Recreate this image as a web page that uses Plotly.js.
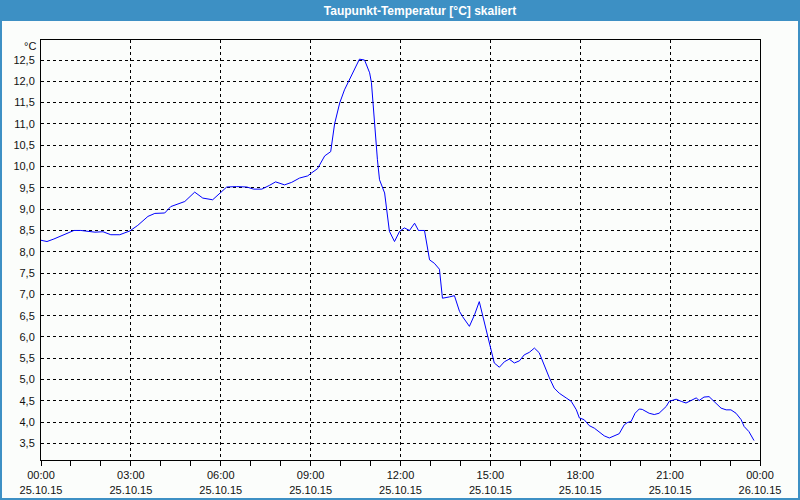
<!DOCTYPE html>
<html>
<head>
<meta charset="utf-8">
<script src="https://cdn.plot.ly/plotly-3.0.1.min.js"></script>
<style>
html,body{margin:0;padding:0;background:#fbfdfb;}
#chart{width:800px;height:500px;}
</style>
</head>
<body>
<div id="chart"></div>
<script>
// time of day in hours (25.10.15 00:00 = 0)
const hours = [0,0.2,0.43,0.7,0.9,1.1,1.33,1.57,1.8,2.07,2.33,2.63,2.97,3.23,3.57,3.8,4.13,4.33,4.57,4.8,5.13,5.4,5.73,5.97,6.2,6.53,6.87,7.1,7.37,7.63,7.83,8.13,8.37,8.63,8.9,9.03,9.23,9.47,9.67,9.8,9.97,10.13,10.37,10.53,10.63,10.8,10.97,11.03,11.1,11.17,11.23,11.3,11.47,11.63,11.8,11.97,12.13,12.3,12.47,12.6,12.8,12.97,13.13,13.3,13.4,13.63,13.8,13.97,14.07,14.3,14.47,14.63,14.8,14.97,15.13,15.3,15.47,15.63,15.8,15.97,16.13,16.3,16.47,16.63,16.8,16.97,17.13,17.3,17.53,17.7,17.87,17.97,18.13,18.3,18.47,18.63,18.8,18.97,19.13,19.3,19.47,19.57,19.7,19.83,19.97,20.07,20.3,20.47,20.63,20.87,20.97,21.2,21.37,21.53,21.7,21.87,21.97,22.13,22.3,22.47,22.7,22.87,23.03,23.2,23.37,23.47,23.63,23.8];
// dew point in °C
const dewPoint = [8.27,8.24,8.3,8.38,8.45,8.5,8.5,8.48,8.46,8.47,8.4,8.4,8.49,8.62,8.83,8.9,8.91,9.06,9.12,9.18,9.4,9.26,9.22,9.38,9.52,9.53,9.52,9.47,9.47,9.56,9.64,9.57,9.63,9.73,9.78,9.85,9.95,10.25,10.35,11.0,11.49,11.8,12.15,12.4,12.52,12.5,12.2,11.97,11.3,10.8,10.16,9.69,9.38,8.48,8.24,8.48,8.56,8.5,8.67,8.5,8.5,7.81,7.73,7.59,6.91,6.94,6.97,6.6,6.48,6.25,6.52,6.83,6.33,5.9,5.39,5.29,5.42,5.48,5.39,5.44,5.58,5.64,5.74,5.63,5.31,5.04,4.8,4.68,4.57,4.49,4.29,4.1,4.06,3.92,3.86,3.78,3.68,3.63,3.67,3.73,3.94,3.99,4.02,4.21,4.31,4.3,4.21,4.18,4.21,4.37,4.49,4.54,4.49,4.45,4.51,4.57,4.51,4.59,4.6,4.49,4.33,4.29,4.29,4.21,4.06,3.9,3.78,3.57];

const xTickVals = [0,3,6,9,12,15,18,21,24];
const xTickText = ["00:00<br>25.10.15","03:00<br>25.10.15","06:00<br>25.10.15","09:00<br>25.10.15","12:00<br>25.10.15","15:00<br>25.10.15","18:00<br>25.10.15","21:00<br>25.10.15","00:00<br>26.10.15"];
const yTickVals = [3.5,4,4.5,5,5.5,6,6.5,7,7.5,8,8.5,9,9.5,10,10.5,11,11.5,12,12.5];

const titleText = "Taupunkt-Temperatur [°C] skaliert";
const unitText = "°C";

// pixel helpers for paper coordinates (plot area 41..760 x 40..460)
const px = p => (p - 41) / 719;
const py = p => (460 - p) / 420;

const font = {family: "Liberation Sans, Arial, sans-serif", size: 11, color: "#111111"};

const trace = {
  x: hours, y: dewPoint, type: "scatter", mode: "lines",
  line: {color: "#0000ff", width: 1, shape: "linear"},
  hoverinfo: "none", showlegend: false
};

const layout = {
  width: 800, height: 500,
  margin: {l: 41, r: 40, t: 40, b: 40, pad: 0},
  paper_bgcolor: "#fbfdfb", plot_bgcolor: "#fbfdfb",
  separators: ",.",
  font: font,
  title: {
    text: titleText,
    font: {family: "Liberation Sans, Arial, sans-serif", size: 12, color: "#ffffff", weight: "bold"},
    xref: "paper", x: px(420), xanchor: "center",
    yref: "container", y: 1 - 10.5/500, yanchor: "middle"
  },
  xaxis: {
    range: [0, 24], tickmode: "array", tickvals: xTickVals, ticktext: xTickText,
    showgrid: true, gridcolor: "#000000", gridwidth: 1, griddash: "3px,3px",
    showline: true, linecolor: "#000000", linewidth: 1, mirror: true,
    ticks: "outside", ticklen: 5, tickcolor: "#000000", tickwidth: 1,
    minor: {dtick: 1, tick0: 0, ticks: "outside", ticklen: 5, tickcolor: "#000000", showgrid: false},
    zeroline: false, fixedrange: true, tickfont: font
  },
  yaxis: {
    range: [3.113, 12.97], tickmode: "array", tickvals: yTickVals, tickformat: ".1f",
    showgrid: true, gridcolor: "#000000", gridwidth: 1, griddash: "3px,3px",
    showline: true, linecolor: "#000000", linewidth: 1, mirror: true,
    ticks: "", ticklabelstandoff: 3,
    zeroline: false, fixedrange: true, tickfont: font
  },
  shapes: [
    {type: "rect", xref: "paper", yref: "paper", x0: px(0), x1: px(800), y0: py(0), y1: py(21),
     fillcolor: "#3d90c4", line: {width: 0}, layer: "below"},
    {type: "rect", xref: "paper", yref: "paper", x0: px(1), x1: px(799), y0: py(1), y1: py(499),
     fillcolor: "rgba(0,0,0,0)", line: {color: "#3d90c4", width: 2}}
  ],
  annotations: [
    {text: unitText, xref: "paper", yref: "paper", x: px(38), y: py(46.5),
     xanchor: "right", yanchor: "middle", showarrow: false, font: font}
  ]
};

Plotly.newPlot("chart", [trace], layout, {staticPlot: true, displayModeBar: false});
</script>
</body>
</html>
